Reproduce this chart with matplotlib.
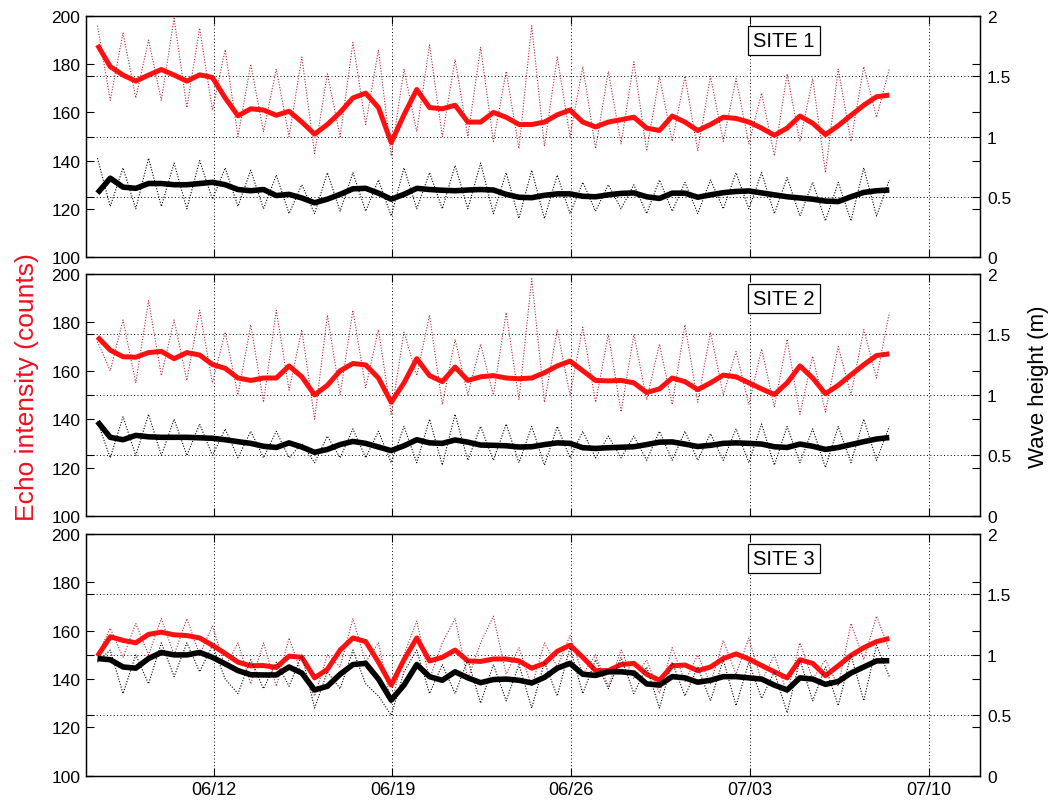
import matplotlib
matplotlib.use('Agg')
import matplotlib.pyplot as plot
import matplotlib.dates as mdates
import pandas

matplotlib.rcParams['font.family'] = ['Liberation Sans', 'DejaVu Sans']

# half-daily samples, 06/07 to 07/08
times = pandas.date_range('2010-06-07 10:48', periods=63, freq='12h')

# ---- SITE 1 ----
echo_raw_1 = [196, 165, 193, 166, 190, 165, 199, 162, 195, 161,
              186, 150, 180, 152, 178, 150, 183, 143, 176, 150,
              189, 155, 186, 142, 178, 152, 188, 150, 182, 150,
              187, 148, 177, 145, 196, 146, 183, 150, 179, 145,
              177, 147, 181, 144, 175, 148, 175, 144, 175, 148,
              174, 147, 168, 142, 176, 148, 174, 135, 178, 148,
              179, 158, 178]
echo_lp_1 = [188, 179, 175.5, 173, 175.5, 177.8, 175.5, 173, 175.6, 174.5,
             166, 158.6, 161.5, 161, 158.8, 160.5, 156, 151, 155, 160,
             166, 168, 162, 147.5, 159, 169.5, 162, 161.5, 163, 156,
             156, 160, 158, 155, 155, 156, 159, 161, 156, 154,
             156, 157, 158, 153.5, 152.5, 158.5, 156, 152.5, 155, 158,
             157.5, 156, 153.5, 150.5, 153.5, 158.5, 155.5, 150.8, 154.5, 158.8,
             163, 166.5, 167.2]
wave_raw_1 = [0.82, 0.42, 0.74, 0.40, 0.82, 0.42, 0.78, 0.40, 0.80, 0.48,
              0.74, 0.42, 0.72, 0.40, 0.68, 0.36, 0.60, 0.36, 0.70, 0.38,
              0.70, 0.38, 0.64, 0.34, 0.74, 0.40, 0.70, 0.40, 0.76, 0.40,
              0.78, 0.36, 0.70, 0.32, 0.72, 0.32, 0.68, 0.36, 0.62, 0.38,
              0.60, 0.40, 0.60, 0.36, 0.64, 0.38, 0.62, 0.36, 0.64, 0.40,
              0.70, 0.40, 0.70, 0.36, 0.66, 0.34, 0.62, 0.30, 0.62, 0.30,
              0.74, 0.34, 0.64]
wave_lp_1 = [0.53, 0.654, 0.58, 0.57, 0.61, 0.61, 0.60, 0.60, 0.61, 0.62,
             0.60, 0.56, 0.55, 0.56, 0.51, 0.52, 0.49, 0.45, 0.48, 0.52,
             0.566, 0.57, 0.53, 0.48, 0.52, 0.57, 0.56, 0.554, 0.55, 0.556,
             0.56, 0.556, 0.52, 0.496, 0.492, 0.512, 0.524, 0.524, 0.504, 0.50,
             0.516, 0.528, 0.532, 0.50, 0.486, 0.53, 0.53, 0.496, 0.516, 0.534,
             0.544, 0.548, 0.532, 0.516, 0.50, 0.49, 0.48, 0.464, 0.46, 0.50,
             0.536, 0.55, 0.556]

# ---- SITE 2 ----
echo_raw_2 = [172, 160, 181, 155, 189, 158, 181, 156, 185, 155,
              176, 150, 179, 147, 185, 152, 177, 140, 183, 150,
              185, 153, 177, 142, 176, 158, 183, 146, 173, 150,
              171, 150, 184, 148, 198, 147, 177, 150, 178, 147,
              175, 143, 175, 148, 171, 146, 179, 147, 176, 150,
              168, 146, 169, 145, 173, 142, 166, 143, 170, 150,
              177, 157, 184]
echo_lp_2 = [174, 168.5, 165.8, 165.6, 167.5, 168, 165, 167.5, 166.5, 162.6,
             161, 157, 156, 157, 157, 162, 157.5, 150, 154, 160,
             163, 162.4, 157, 147, 155, 165, 158, 155.5, 161.5, 156,
             157.5, 158, 157, 156.7, 157, 159.2, 162, 164, 160, 156,
             155.8, 156, 155, 151, 152.5, 157, 155.5, 152.2, 155, 158.2,
             157.5, 155, 152.5, 150.2, 155, 162, 157, 150.5, 154, 158.3,
             162.5, 166.3, 167]
wave_raw_2 = [0.78, 0.48, 0.82, 0.50, 0.84, 0.50, 0.80, 0.50, 0.76, 0.50,
              0.72, 0.48, 0.70, 0.48, 0.70, 0.48, 0.60, 0.44, 0.66, 0.48,
              0.72, 0.48, 0.70, 0.44, 0.74, 0.44, 0.80, 0.42, 0.84, 0.46,
              0.74, 0.46, 0.76, 0.44, 0.74, 0.42, 0.74, 0.48, 0.70, 0.48,
              0.66, 0.48, 0.66, 0.46, 0.70, 0.46, 0.70, 0.46, 0.68, 0.46,
              0.72, 0.44, 0.76, 0.42, 0.74, 0.44, 0.72, 0.40, 0.74, 0.44,
              0.80, 0.46, 0.74]
wave_lp_2 = [0.78, 0.65, 0.63, 0.666, 0.654, 0.65, 0.65, 0.65, 0.646, 0.642,
             0.63, 0.614, 0.60, 0.576, 0.566, 0.604, 0.57, 0.526, 0.55, 0.59,
             0.616, 0.60, 0.57, 0.54, 0.58, 0.63, 0.604, 0.60, 0.628, 0.61,
             0.586, 0.584, 0.58, 0.57, 0.572, 0.59, 0.604, 0.60, 0.564, 0.558,
             0.564, 0.568, 0.572, 0.59, 0.61, 0.612, 0.594, 0.574, 0.584, 0.60,
             0.604, 0.60, 0.594, 0.572, 0.566, 0.594, 0.576, 0.55, 0.566, 0.59,
             0.614, 0.636, 0.648]

# ---- SITE 3 ----
echo_raw_3 = [150, 161, 149, 163, 150, 165, 150, 165, 150, 162,
              145, 155, 138, 155, 137, 157, 142, 133, 150, 145,
              165, 147, 155, 130, 150, 164, 140, 155, 165, 140,
              155, 166, 142, 153, 137, 155, 145, 158, 142, 150,
              137, 152, 140, 148, 134, 153, 139, 150, 138, 156,
              142, 157, 139, 150, 134, 155, 140, 148, 137, 163,
              148, 166, 152]
echo_lp_3 = [149.5, 157.5, 156, 155, 158.5, 159.4, 158.3, 158, 157, 154,
             150.6, 147, 145.5, 145.6, 144.8, 149.5, 149, 140.5, 144, 152,
             157, 155.5, 147, 137.5, 148, 157, 147.5, 149, 152, 147.5,
             147.3, 148.3, 148.3, 147.5, 144.5, 146.5, 151.5, 154, 149, 143.5,
             143.5, 146, 146.5, 142, 139.5, 145.5, 145.8, 143.5, 145, 148.5,
             150.4, 148.3, 145.6, 143, 140.5, 148, 146.5, 141.4, 145.5, 149.8,
             153, 155.5, 156.8]
wave_raw_3 = [0.94, 1.04, 0.68, 1.00, 0.76, 1.10, 0.82, 1.10, 0.86, 1.08,
              0.80, 0.68, 0.96, 0.72, 0.94, 0.74, 1.00, 0.56, 0.86, 0.72,
              1.04, 0.76, 0.66, 0.50, 0.86, 1.04, 0.68, 0.92, 0.68, 0.96,
              0.60, 0.92, 0.62, 0.92, 0.56, 0.94, 0.66, 1.06, 0.68, 0.96,
              0.72, 0.98, 0.68, 0.90, 0.56, 0.94, 0.66, 0.90, 0.62, 0.96,
              0.58, 0.94, 0.64, 0.86, 0.52, 0.96, 0.62, 0.90, 0.58, 1.00,
              0.62, 1.08, 0.82]
wave_lp_3 = [0.97, 0.96, 0.90, 0.89, 0.97, 1.02, 1.00, 1.00, 1.02, 0.98,
             0.926, 0.87, 0.836, 0.834, 0.834, 0.90, 0.85, 0.71, 0.74, 0.84,
             0.92, 0.93, 0.80, 0.626, 0.75, 0.92, 0.82, 0.79, 0.86, 0.81,
             0.77, 0.796, 0.80, 0.79, 0.768, 0.814, 0.89, 0.93, 0.84, 0.83,
             0.86, 0.86, 0.85, 0.76, 0.75, 0.82, 0.81, 0.774, 0.79, 0.82,
             0.82, 0.81, 0.80, 0.75, 0.71, 0.81, 0.80, 0.756, 0.78, 0.85,
             0.90, 0.95, 0.952]

site_names = ['SITE 1', 'SITE 2', 'SITE 3']
echo_raw = [echo_raw_1, echo_raw_2, echo_raw_3]
echo_lp = [echo_lp_1, echo_lp_2, echo_lp_3]
wave_raw = [wave_raw_1, wave_raw_2, wave_raw_3]
wave_lp = [wave_lp_1, wave_lp_2, wave_lp_3]

date_ticks = pandas.date_range('2010-06-12', periods=5, freq='7D')
x_range = (pandas.Timestamp('2010-06-07'), pandas.Timestamp('2010-07-12'))

fig = plot.figure(figsize=(10.55, 8.03), dpi=100)
boxes = [(0.0815, 0.6787, 0.8474, 0.3001),
         (0.0815, 0.3562, 0.8474, 0.3014),
         (0.0815, 0.0327, 0.8474, 0.3010)]

dots = (0, (1, 1.5))
grid_dots = (0, (1, 2.5))


def draw_site(idx):
    ax = fig.add_axes(boxes[idx])
    ax2 = ax.twinx()

    ax.plot(times, echo_raw[idx], color='#b4283c', lw=0.8, ls=dots)
    ax.plot(times, echo_lp[idx], color='#ff1010', lw=3.6,
            solid_joinstyle='round', solid_capstyle='butt')
    ax2.plot(times, wave_raw[idx], color='black', lw=0.8, ls=dots)
    ax2.plot(times, wave_lp[idx], color='black', lw=4,
             solid_joinstyle='round', solid_capstyle='butt')

    ax.set_xlim(*x_range)
    ax.set_ylim(100, 200)
    ax2.set_ylim(0, 2)

    ax.set_xticks(date_ticks)
    ax.xaxis.set_major_formatter(mdates.DateFormatter('%m/%d'))
    ax.set_yticks(range(100, 201, 20))
    ax.set_yticks([125, 150, 175], minor=True)
    ax.set_axisbelow(True)
    ax.grid(True, axis='x', which='major', ls=grid_dots, color='k', lw=0.7)
    ax.grid(True, axis='y', which='minor', ls=grid_dots, color='k', lw=0.7)
    ax.tick_params(which='major', direction='in', length=6, width=0.8,
                   top=True, right=True, labelsize=12.5, pad=4)
    ax.tick_params(axis='x', labelsize=13, pad=4)
    ax.tick_params(which='minor', length=0)

    ax2.set_yticks([0, 0.5, 1, 1.5, 2])
    ax2.set_yticklabels(['0', '0.5', '1', '1.5', '2'])
    ax2.tick_params(direction='in', length=6, width=0.8, left=True,
                    labelsize=12.5, pad=5)

    if idx < 2:
        ax.tick_params(axis='x', labelbottom=False)

    for a in (ax, ax2):
        for sp in a.spines.values():
            sp.set_linewidth(0.9)

    ax.text(0.781, 0.898, site_names[idx], transform=ax.transAxes,
            ha='center', va='center', fontsize=14.5, zorder=5,
            bbox=dict(boxstyle='square,pad=0.25', fc='white', ec='black', lw=0.9))
    return ax, ax2


axes = [draw_site(i) for i in range(3)]

mid, mid2 = axes[1]
mid.set_ylabel('Echo intensity (counts)', color='#f01020', fontsize=19)
mid.yaxis.set_label_coords(-0.053, 0.537)
mid2.set_ylabel('Wave height (m)', fontsize=16, rotation=90)
mid2.yaxis.set_label_coords(1.054, 0.537)

fig.savefig('out.png', dpi=100)
